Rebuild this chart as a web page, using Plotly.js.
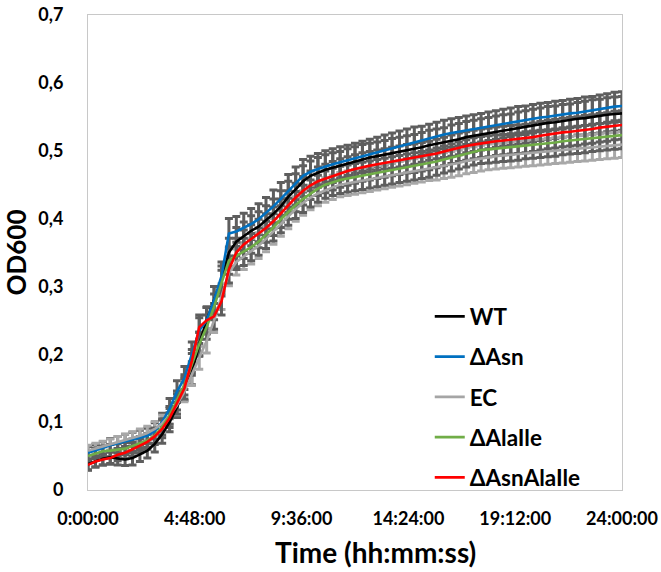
<!DOCTYPE html>
<html>
<head>
<meta charset="utf-8">
<script src="https://cdn.plot.ly/plotly-3.0.1.min.js"></script>
<style>
html,body{margin:0;padding:0;background:#fff;}
#chart{width:661px;height:572px;}
</style>
</head>
<body>
<div id="chart"></div>
<script>
// time in minutes (sampled every 20 min)
const timeMin = [0,20,40,60,80,100,120,140,160,180,200,220,240,260,280,300,320,340,360,380,400,420,440,460,480,500,520,540,560,580,600,620,640,660,680,700,720,740,760,780,800,820,840,860,880,900,920,940,960,980,1000,1020,1040,1060,1080,1100,1120,1140,1160,1180,1200,1220,1240,1260,1280,1300,1320,1340,1360,1380,1400,1420,1440];

const seriesNames = ["WT", "\u0394Asn", "EC", "\u0394AlaIle", "\u0394AsnAlaIle"];
const seriesColors = ["#000000", "#0070C0", "#A5A5A5", "#70AD47", "#FF0000"];

const wt = [0.038,0.042,0.046, 0.048,0.046,0.045, 0.047,0.052,0.058, 0.068,0.082,0.100, 0.122,0.148,0.172, 0.215,0.250,0.280, 0.310,0.350,0.366, 0.374,0.382,0.388, 0.397,0.407,0.418, 0.432,0.443,0.455, 0.463,0.468,0.472, 0.475,0.478,0.482, 0.485,0.488,0.490, 0.492,0.494,0.496, 0.498,0.500,0.502, 0.505,0.508,0.510, 0.512,0.515,0.517, 0.520,0.522,0.524, 0.526,0.528,0.530, 0.531,0.533,0.535, 0.537,0.539,0.541, 0.542,0.544,0.545, 0.547,0.548,0.550, 0.551,0.553,0.554, 0.555];
const asn = [0.055,0.058,0.062, 0.066,0.069,0.072, 0.075,0.077,0.080, 0.087,0.100,0.120, 0.145,0.165,0.200, 0.235,0.250,0.280, 0.315,0.378,0.381, 0.386,0.392,0.399, 0.408,0.418,0.429, 0.441,0.452,0.463, 0.469,0.473,0.477, 0.480,0.483,0.486, 0.489,0.492,0.495, 0.498,0.501,0.504, 0.507,0.510,0.513, 0.515,0.518,0.521, 0.524,0.526,0.528, 0.530,0.532,0.534, 0.536,0.538,0.540, 0.542,0.544,0.545, 0.547,0.549,0.550, 0.552,0.553,0.555, 0.556,0.558,0.559, 0.561,0.563,0.565, 0.566];
const ec = [0.058,0.061,0.064, 0.067,0.070,0.073, 0.077,0.080,0.084, 0.090,0.098,0.110, 0.125,0.145,0.170, 0.195,0.220,0.250, 0.285,0.320,0.336, 0.344,0.352,0.360, 0.370,0.381,0.393, 0.404,0.414,0.423, 0.431,0.437,0.442, 0.446,0.450,0.452, 0.454,0.456,0.458, 0.460,0.462,0.464, 0.466,0.468,0.470, 0.472,0.474,0.476, 0.478,0.480,0.482, 0.485,0.487,0.489, 0.491,0.492,0.493, 0.494,0.495,0.496, 0.497,0.498,0.499, 0.500,0.501,0.502, 0.503,0.504,0.505, 0.506,0.507,0.508, 0.509];
const alaIle = [0.050,0.054,0.057, 0.058,0.059,0.061, 0.065,0.069,0.073, 0.080,0.093,0.110, 0.132,0.155,0.185, 0.215,0.240,0.270, 0.305,0.338,0.345, 0.351,0.358,0.366, 0.376,0.387,0.399, 0.410,0.420,0.429, 0.437,0.444,0.450, 0.454,0.457,0.459, 0.461,0.463,0.465, 0.467,0.469,0.471, 0.473,0.475,0.477, 0.479,0.481,0.484, 0.487,0.490,0.493, 0.496,0.499,0.501, 0.502,0.503,0.504, 0.505,0.506,0.508, 0.509,0.510,0.511, 0.512,0.514,0.515, 0.516,0.517,0.519, 0.520,0.521,0.522, 0.523];
const asnAlaIle = [0.037,0.042,0.045, 0.047,0.052,0.055, 0.060,0.065,0.071, 0.079,0.090,0.106, 0.127,0.150,0.190, 0.240,0.250,0.256, 0.278,0.325,0.350, 0.362,0.370,0.378, 0.386,0.396,0.408, 0.420,0.431,0.441, 0.449,0.455,0.459, 0.463,0.467,0.470, 0.473,0.476,0.478, 0.480,0.482,0.484, 0.486,0.488,0.489, 0.491,0.493,0.496, 0.499,0.502,0.505, 0.507,0.509,0.511, 0.512,0.514,0.515, 0.516,0.517,0.518, 0.520,0.522,0.524, 0.525,0.527,0.528, 0.529,0.531,0.532, 0.534,0.535,0.537, 0.538];

// standard deviations (error bars)
const errWt = [0.008,0.008,0.009, 0.009,0.009,0.009, 0.010,0.010,0.011, 0.012,0.013,0.014, 0.015,0.016,0.017, 0.018,0.019,0.020, 0.020,0.021,0.021, 0.021,0.022,0.022, 0.022,0.022,0.023, 0.023,0.023,0.023, 0.022,0.022,0.022, 0.022,0.021,0.021, 0.021,0.021,0.021, 0.021,0.021,0.022, 0.022,0.022,0.022, 0.022,0.022,0.022, 0.022,0.023,0.023, 0.023,0.023,0.023, 0.023,0.023,0.023, 0.023,0.024,0.024, 0.024,0.024,0.024, 0.024,0.024,0.024, 0.024,0.025,0.025, 0.025,0.025,0.025, 0.025];
const errAsn = [0.009,0.009,0.009, 0.010,0.010,0.010, 0.010,0.011,0.011, 0.012,0.013,0.015, 0.016,0.017,0.018, 0.019,0.020,0.020, 0.021,0.022,0.022, 0.022,0.023,0.023, 0.023,0.024,0.024, 0.024,0.024,0.024, 0.023,0.023,0.023, 0.023,0.023,0.022, 0.022,0.022,0.022, 0.022,0.022,0.022, 0.022,0.022,0.022, 0.021,0.021,0.021, 0.021,0.021,0.021, 0.021,0.021,0.021, 0.021,0.021,0.021, 0.021,0.021,0.021, 0.021,0.021,0.021, 0.021,0.021,0.021, 0.021,0.021,0.021, 0.021,0.021,0.021, 0.021];
const errEc = [0.008,0.008,0.008, 0.008,0.009,0.009, 0.009,0.010,0.010, 0.011,0.012,0.013, 0.014,0.015,0.016, 0.017,0.018,0.018, 0.019,0.019,0.019, 0.019,0.019,0.019, 0.019,0.019,0.019, 0.019,0.018,0.018, 0.018,0.018,0.018, 0.018,0.018,0.018, 0.018,0.018,0.018, 0.018,0.018,0.018, 0.018,0.018,0.018, 0.018,0.018,0.019, 0.019,0.019,0.019, 0.019,0.019,0.019, 0.019,0.019,0.019, 0.019,0.019,0.019, 0.019,0.019,0.019, 0.019,0.019,0.019, 0.019,0.019,0.019, 0.019,0.019,0.019, 0.019];
const errAlaIle = [0.008,0.008,0.008, 0.009,0.009,0.009, 0.010,0.010,0.010, 0.011,0.012,0.013, 0.014,0.015,0.016, 0.017,0.018,0.019, 0.019,0.020,0.020, 0.020,0.020,0.020, 0.020,0.020,0.020, 0.020,0.020,0.020, 0.020,0.020,0.020, 0.020,0.020,0.020, 0.020,0.020,0.020, 0.020,0.020,0.020, 0.020,0.020,0.020, 0.020,0.020,0.020, 0.020,0.020,0.020, 0.020,0.020,0.020, 0.020,0.020,0.020, 0.020,0.020,0.020, 0.020,0.020,0.020, 0.020,0.020,0.020, 0.020,0.020,0.020, 0.020,0.020,0.020, 0.020];
const errAsnAlaIle = [0.008,0.008,0.008, 0.009,0.009,0.009, 0.010,0.010,0.011, 0.012,0.013,0.014, 0.015,0.016,0.017, 0.018,0.019,0.019, 0.020,0.020,0.021, 0.021,0.021,0.021, 0.021,0.021,0.021, 0.021,0.021,0.021, 0.021,0.021,0.021, 0.021,0.021,0.021, 0.021,0.021,0.021, 0.021,0.021,0.021, 0.021,0.021,0.021, 0.021,0.021,0.021, 0.021,0.021,0.021, 0.021,0.021,0.021, 0.021,0.021,0.021, 0.021,0.021,0.021, 0.021,0.021,0.021, 0.021,0.021,0.021, 0.021,0.021,0.021, 0.021,0.021,0.021, 0.021];

const xTickVals = [0, 288, 576, 864, 1152, 1440];
const xTickText = ["0:00:00", "4:48:00", "9:36:00", "14:24:00", "19:12:00", "24:00:00"];
const xTitle = "Time (hh:mm:ss)";
const yTitle = "OD600";

const seriesY = [wt, asn, ec, alaIle, asnAlaIle];
const seriesErr = [errWt, errAsn, errEc, errAlaIle, errAsnAlaIle];
const errColors = ["#5e5e5e", "#5e5e5e", "#a8a8a8", "#5e5e5e", "#5e5e5e"];

const FONT = "Lato, 'Open Sans', 'DejaVu Sans', sans-serif";
const traces = [];
// error bars underneath
for (let i = 0; i < seriesY.length; i++) {
  traces.push({
    x: timeMin, y: seriesY[i], type: 'scatter', mode: 'lines',
    line: {width: 0, color: 'rgba(0,0,0,0)'},
    showlegend: false, hoverinfo: 'skip',
    error_y: {type: 'data', array: seriesErr[i], visible: true, color: errColors[i], thickness: 3, width: 4}
  });
}
// lines on top
for (let i = 0; i < seriesY.length; i++) {
  traces.push({
    x: timeMin, y: seriesY[i], type: 'scatter', mode: 'lines',
    name: seriesNames[i], legendgroup: 'g' + i,
    line: {width: 2.6, color: seriesColors[i]}
  });
}

const layout = {
  width: 661, height: 572,
  margin: {l: 88, r: 39, t: 15, b: 82},
  paper_bgcolor: '#fff', plot_bgcolor: '#fff',
  separators: ', ',
  font: {family: FONT, color: '#000', size: 18},
  showlegend: true,
  legend: {
    x: 0.64, y: 0.41, xanchor: 'left', yanchor: 'top',
    bgcolor: 'rgba(0,0,0,0)', borderwidth: 0,
    font: {family: FONT, size: 22.5, color: '#000', weight: 'bold'},
    tracegroupgap: 8, itemwidth: 30
  },
  xaxis: {
    range: [0, 1440], tickvals: xTickVals, ticktext: xTickText,
    showgrid: false, zeroline: false, showline: true, mirror: true,
    linecolor: '#c8c8c8', linewidth: 1, ticks: '',
    tickfont: {family: FONT, size: 18, color: '#000', weight: 'bold'},
    ticklabelstandoff: 12
  },
  yaxis: {
    range: [0, 0.7], dtick: 0.1, tick0: 0,
    showgrid: false, zeroline: false, showline: true, mirror: true,
    linecolor: '#c8c8c8', linewidth: 1, ticks: '',
    tickfont: {family: FONT, size: 18, color: '#000', weight: 'bold'},
    ticklabelstandoff: 20,
    title: {text: yTitle, font: {family: FONT, size: 26, color: '#000', weight: 'bold'}, standoff: 8}
  },
  annotations: [{
    text: xTitle, xref: 'paper', yref: 'paper', x: 0.539, y: -0.13,
    xanchor: 'center', yanchor: 'middle', showarrow: false,
    font: {family: FONT, size: 28, color: '#000', weight: 'bold'}
  }]
};

Plotly.newPlot('chart', traces, layout, {displayModeBar: false, staticPlot: true});
</script>
</body>
</html>
